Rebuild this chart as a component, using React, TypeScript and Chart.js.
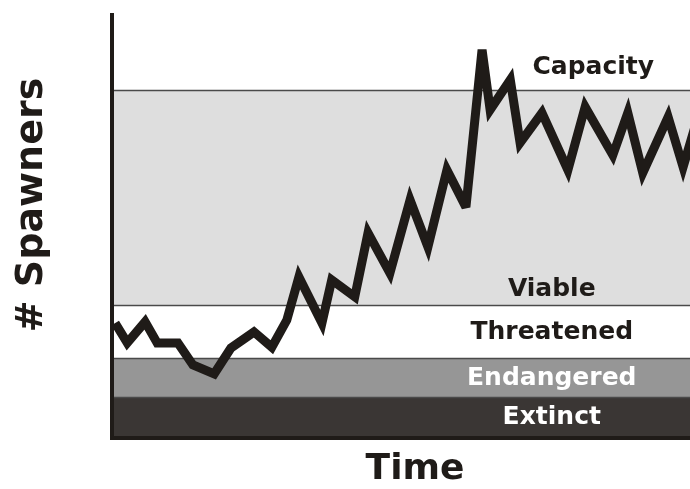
import React, { useEffect, useRef } from "react";
import { Chart, registerables } from "chart.js";

Chart.register(...registerables);

// Time (arbitrary units, 0..100) and number of spawners (arbitrary units, 0..100)
const timeValues = [0.2, 2.3, 5.4, 7.5, 11.1, 13.7, 17.4, 20.3, 24.3, 27.4, 30.0, 32.1, 36.1, 37.8, 41.8, 44.1, 47.9, 51.4, 54.5, 57.8, 61.1, 63.9, 65.3, 68.8, 70.5, 74.3, 78.8, 81.8, 86.6, 89.2, 91.8, 96.2, 98.8, 101.5];
const spawners = [26.7, 22.0, 27.0, 22.0, 22.0, 16.8, 14.7, 20.8, 24.6, 21.0, 27.4, 37.6, 26.7, 36.9, 32.9, 48.0, 38.5, 55.8, 44.7, 62.9, 54.1, 91.3, 77.1, 84.2, 69.3, 76.4, 62.9, 77.8, 66.4, 76.4, 62.2, 75.4, 63.6, 76.0];

// Status bands
const bandNames = ["Extinct", "Endangered", "Threatened", "Viable"];
const bandLower = [0, 9.2, 18.4, 31.0];
const bandUpper = [9.2, 18.4, 31.0, 81.8];
const bandColors = ["#3a3634", "#969696", "#ffffff", "#dedede"];
const bandTextColors = ["#ffffff", "#ffffff", "#1f1b18", "#1f1b18"];
const capacityLabel = "Capacity";
const capacityValue = 81.8;

const xTitle = "Time";
const yTitle = "# Spawners";

const FONT = "'Comic Sans MS', 'DejaVu Sans', sans-serif";
const INK = "#1f1b18";

const bandsPlugin = {
  id: "bands",
  beforeDatasetsDraw(chart: any) {
    const { ctx, chartArea, scales } = chart;
    const y = scales.y;
    ctx.save();
    for (let i = 0; i < bandNames.length; i++) {
      const top = y.getPixelForValue(bandUpper[i]);
      const bot = y.getPixelForValue(bandLower[i]);
      ctx.fillStyle = bandColors[i];
      ctx.fillRect(chartArea.left, top, chartArea.right - chartArea.left, bot - top);
    }
    ctx.strokeStyle = "#4a4a4a";
    ctx.lineWidth = 1.5;
    const edges = [bandLower[1], bandLower[2], bandLower[3], capacityValue];
    for (const v of edges) {
      const py = Math.round(y.getPixelForValue(v)) + 0.5;
      ctx.beginPath();
      ctx.moveTo(chartArea.left, py);
      ctx.lineTo(chartArea.right, py);
      ctx.stroke();
    }
    ctx.restore();
    ctx.miterLimit = 3.5;
  },
  afterDatasetsDraw(chart: any) {
    const { ctx, chartArea, scales } = chart;
    const y = scales.y;
    const w = chartArea.right - chartArea.left;
    ctx.save();
    // axes
    ctx.fillStyle = INK;
    ctx.fillRect(chartArea.left - 4, chartArea.top, 4, chartArea.bottom - chartArea.top + 4);
    ctx.fillRect(chartArea.left - 4, chartArea.bottom, w + 4, 4);

    // band labels
    ctx.textAlign = "center";
    ctx.textBaseline = "middle";
    ctx.font = `bold 25px ${FONT}`;
    const cx = chartArea.left + w * 0.76;
    for (let i = 0; i < bandNames.length; i++) {
      ctx.fillStyle = bandTextColors[i];
      let py;
      if (i === 3) py = y.getPixelForValue(bandLower[i]) - 15;
      else py = (y.getPixelForValue(bandLower[i]) + y.getPixelForValue(bandUpper[i])) / 2 + 1;
      ctx.fillText(bandNames[i], cx, py);
    }
    ctx.fillStyle = INK;
    ctx.fillText(capacityLabel, chartArea.left + w * 0.832, y.getPixelForValue(capacityValue) - 22);

    // axis titles
    ctx.font = `bold 36px ${FONT}`;
    ctx.fillText(xTitle, 415, 470);
    ctx.translate(32, 205);
    ctx.rotate(-Math.PI / 2);
    ctx.font = `bold 38px ${FONT}`;
    ctx.fillText(yTitle, 0, 0);
    ctx.restore();
  },
};

export default function App() {
  const ref = useRef<HTMLCanvasElement>(null);
  useEffect(() => {
    if (!ref.current) return;
    const chart = new Chart(ref.current, {
      type: "line",
      data: {
        datasets: [
          {
            data: timeValues.map((t, i) => ({ x: t, y: spawners[i] })),
            borderColor: INK,
            borderWidth: 9,
            borderJoinStyle: "miter",
            borderCapStyle: "butt",
            pointRadius: 0,
            tension: 0,
            fill: false,
          },
        ],
      },
      options: {
        responsive: false,
        animation: false,
        events: [],
        layout: { padding: { left: 114, top: 13, right: 0, bottom: 53 } },
        plugins: { legend: { display: false }, tooltip: { enabled: false } },
        scales: {
          x: { type: "linear", min: 0, max: 100, display: false },
          y: { type: "linear", min: 0, max: 100, display: false },
        },
      },
      plugins: [bandsPlugin],
    });
    return () => chart.destroy();
  }, []);
  return (
    <div style={{ position: "absolute", left: 0, top: 0, width: 690, height: 489, background: "#fff" }}>
      <canvas ref={ref} width={690} height={489} />
    </div>
  );
}
